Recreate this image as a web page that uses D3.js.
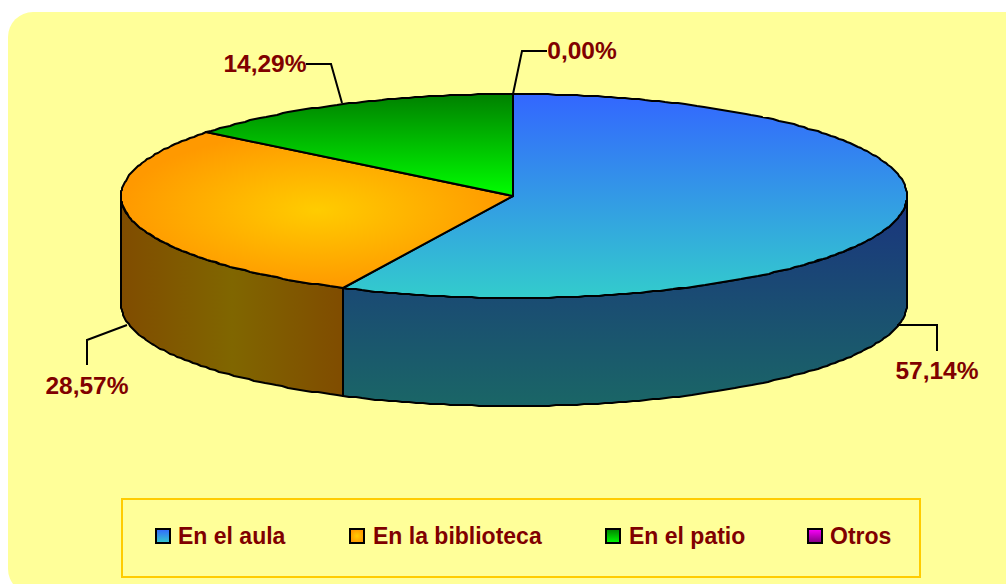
<!DOCTYPE html>
<html><head><meta charset="utf-8">
<script src="https://cdn.jsdelivr.net/npm/d3@7/dist/d3.min.js"></script>
<style>html,body{margin:0;padding:0;background:#fff;overflow:hidden}svg{display:block}text{font-family:"Liberation Sans",Arial,sans-serif;font-weight:bold;fill:#800000}</style>
</head><body><div id="c"></div>
<script>
const categories = ["En el aula","En la biblioteca","En el patio","Otros"];
const values = [57.14,28.57,14.29,0];
const labels = ["57,14%","28,57%","14,29%","0,00%"];
const topStops = [["#3366ff","#33cccc"],["#ffcc00","#ff9900"],["#008000","#00ff00"],["#ff00ff","#800080"]];
const sideStops = [["#1a337f","#1a6666"],["#806600","#804c00"],["#004000","#008000"],["#800080","#400040"]];

const W=1006,H=584,cx=513,cy=196,rxR=394,rxL=392,ry=102,depth=108;
const svg=d3.select("#c").append("svg").attr("width",W).attr("height",H);
const defs=svg.append("defs");
function vgrad(id,c){const g=defs.append("linearGradient").attr("id",id).attr("x1",0).attr("y1",0).attr("x2",0).attr("y2",1);
 g.append("stop").attr("offset",0).attr("stop-color",c[0]);g.append("stop").attr("offset",1).attr("stop-color",c[1]);}
topStops.forEach((c,i)=>{ if(i!==1) vgrad("t"+i,c); });
sideStops.forEach((c,i)=>{ if(i!==1) vgrad("s"+i,c); });
const rg=defs.append("radialGradient").attr("id","t1").attr("cx",.5).attr("cy",.5).attr("r",.5);
rg.append("stop").attr("offset",0).attr("stop-color",topStops[1][0]);rg.append("stop").attr("offset",1).attr("stop-color",topStops[1][1]);
const lg=defs.append("linearGradient").attr("id","s1");
[[0,1],[.5,0],[1,1]].forEach(([o,k])=>lg.append("stop").attr("offset",o).attr("stop-color",sideStops[1][k]));

svg.append("path").attr("fill","#ffff99").attr("d",`M8,${H+10-25}V37a25,25 0 0 1 25,-25H${W+30}V${H+10}H33a25,25 0 0 1 -25,-25Z`);

const pie=d3.pie().sort(null).value(d=>d)(values);
const px=a=>{const s=Math.sin(a);return Math.round(cx+(s>=0?rxR:rxL)*s);};
const py=a=>Math.round(cy-ry*Math.cos(a));
const edge=(a0,a1)=>{const n=Math.max(1,Math.round((a1-a0)/0.018));return d3.range(n+1).map(i=>a0+(a1-a0)*i/n);};
const line=d3.line().x(d=>d[0]).y(d=>d[1]);

const g=svg.append("g").attr("stroke","#000").attr("stroke-width",2).attr("stroke-linejoin","round");
pie.forEach((d,i)=>{
  const a0=Math.max(d.startAngle,Math.PI/2),a1=Math.min(d.endAngle,3*Math.PI/2);
  if(a1<=a0)return;
  const arc=edge(a0,a1);
  const pts=arc.map(a=>[px(a),py(a)]).concat(arc.slice().reverse().map(a=>[px(a),py(a)+depth]));
  g.append("path").attr("d",line(pts)+"Z").attr("fill",`url(#s${i})`);
});
pie.forEach((d,i)=>{
  if(d.endAngle-d.startAngle<=0)return;
  const pts=[[cx,cy]].concat(edge(d.startAngle,d.endAngle).map(a=>[px(a),py(a)]));
  g.append("path").attr("d",line(pts)+"Z").attr("fill",`url(#t${i})`);
});

const leaders=[[[897,325],[937,325],[937,351]],[[127,325],[87,340],[87,365]],[[342,103],[331,64],[306,64]],[[513,94],[522,51],[547,51]]];
leaders.forEach(l=>svg.append("path").attr("d",line(l)).attr("fill","none").attr("stroke","#000").attr("stroke-width",2));
const labelPos=[[937,379],[87,394],[265,72],[582,59]];
labels.forEach((t,i)=>svg.append("text").attr("x",labelPos[i][0]).attr("y",labelPos[i][1]).attr("text-anchor","middle").attr("font-size",24.5).text(t));

svg.append("rect").attr("x",122).attr("y",499).attr("width",798).attr("height",78).attr("fill","none").attr("stroke","#ffcc00").attr("stroke-width",2);
const lx=[156,350,606,808],tx=[178,373,629,830];
categories.forEach((c,i)=>{
  svg.append("rect").attr("x",lx[i]).attr("y",529).attr("width",14).attr("height",14).attr("fill",`url(#t${i})`).attr("stroke","#000").attr("stroke-width",2);
  svg.append("text").attr("x",tx[i]).attr("y",544).attr("font-size",23).text(c);
});
</script></body></html>
